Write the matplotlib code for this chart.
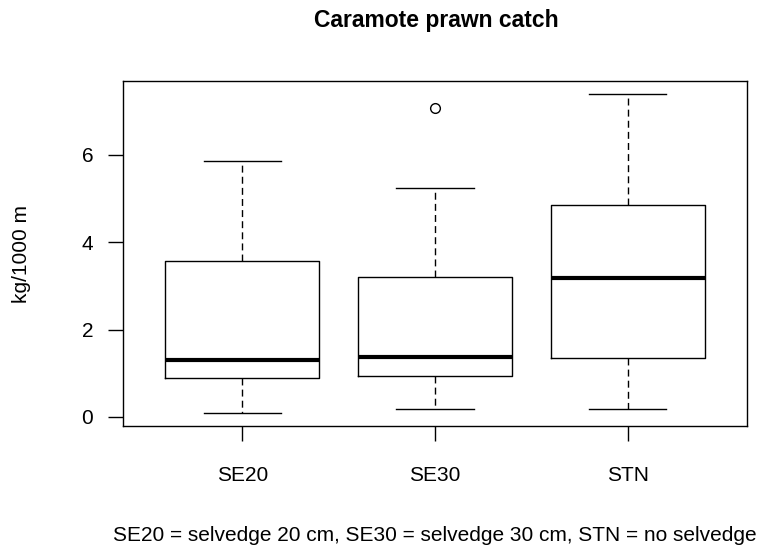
import matplotlib.pyplot as plt

plt.rcParams['font.family'] = ['Liberation Sans', 'DejaVu Sans']

# data
groups = ["SE20", "SE30", "STN"]
whisLo = [0.085, 0.19, 0.19]
q1 = [0.89, 0.93, 1.34]
med = [1.30, 1.38, 3.17]
q3 = [3.58, 3.21, 4.86]
whisHi = [5.86, 5.24, 7.40]
outliers = [[], [7.07], []]

yTicks = [0, 2, 4, 6]

stats = []
for i in range(len(groups)):
    stats.append({"label": groups[i], "whislo": whisLo[i], "q1": q1[i], "med": med[i],
                  "q3": q3[i], "whishi": whisHi[i], "fliers": outliers[i]})

fig = plt.figure(figsize=(7.57, 5.48), dpi=100)
ax = fig.add_axes([0.1625, 0.2226, 0.8243, 0.6296])

ax.bxp(stats, positions=[1, 2, 3], widths=0.8, capwidths=0.4,
       boxprops=dict(color="black", linewidth=1.0),
       medianprops=dict(color="black", linewidth=3.0, solid_capstyle="butt"),
       whiskerprops=dict(color="black", linewidth=1.0, linestyle=(0, (5, 3))),
       capprops=dict(color="black", linewidth=1.0),
       flierprops=dict(marker="o", markersize=7, markerfacecolor="none",
                       markeredgecolor="black", markeredgewidth=1.0))

ax.set_xlim(0.38, 3.62)
ax.set_ylim(-0.208, 7.69)
ax.set_yticks(yTicks)
ax.set_yticklabels([str(t) for t in yTicks])
ax.set_xticks([1, 2, 3])
ax.set_xticklabels(groups)
ax.tick_params(axis="both", length=10.5, width=1.0, labelsize=15, colors="black")
ax.tick_params(axis="y", pad=11)
ax.tick_params(axis="x", pad=18)
for s in ax.spines.values():
    s.set_linewidth(1.0)

ax.set_ylabel("kg/1000 m", fontsize=15, labelpad=36)
fig.text(0.577, 0.963, "Caramote prawn catch", ha="center", va="center",
         fontsize=16.5, fontweight="bold")
fig.text(0.575, 0.023, "SE20 = selvedge 20 cm, SE30 = selvedge 30 cm, STN = no selvedge",
         ha="center", va="center", fontsize=15)

fig.savefig("out.png", dpi=100)
